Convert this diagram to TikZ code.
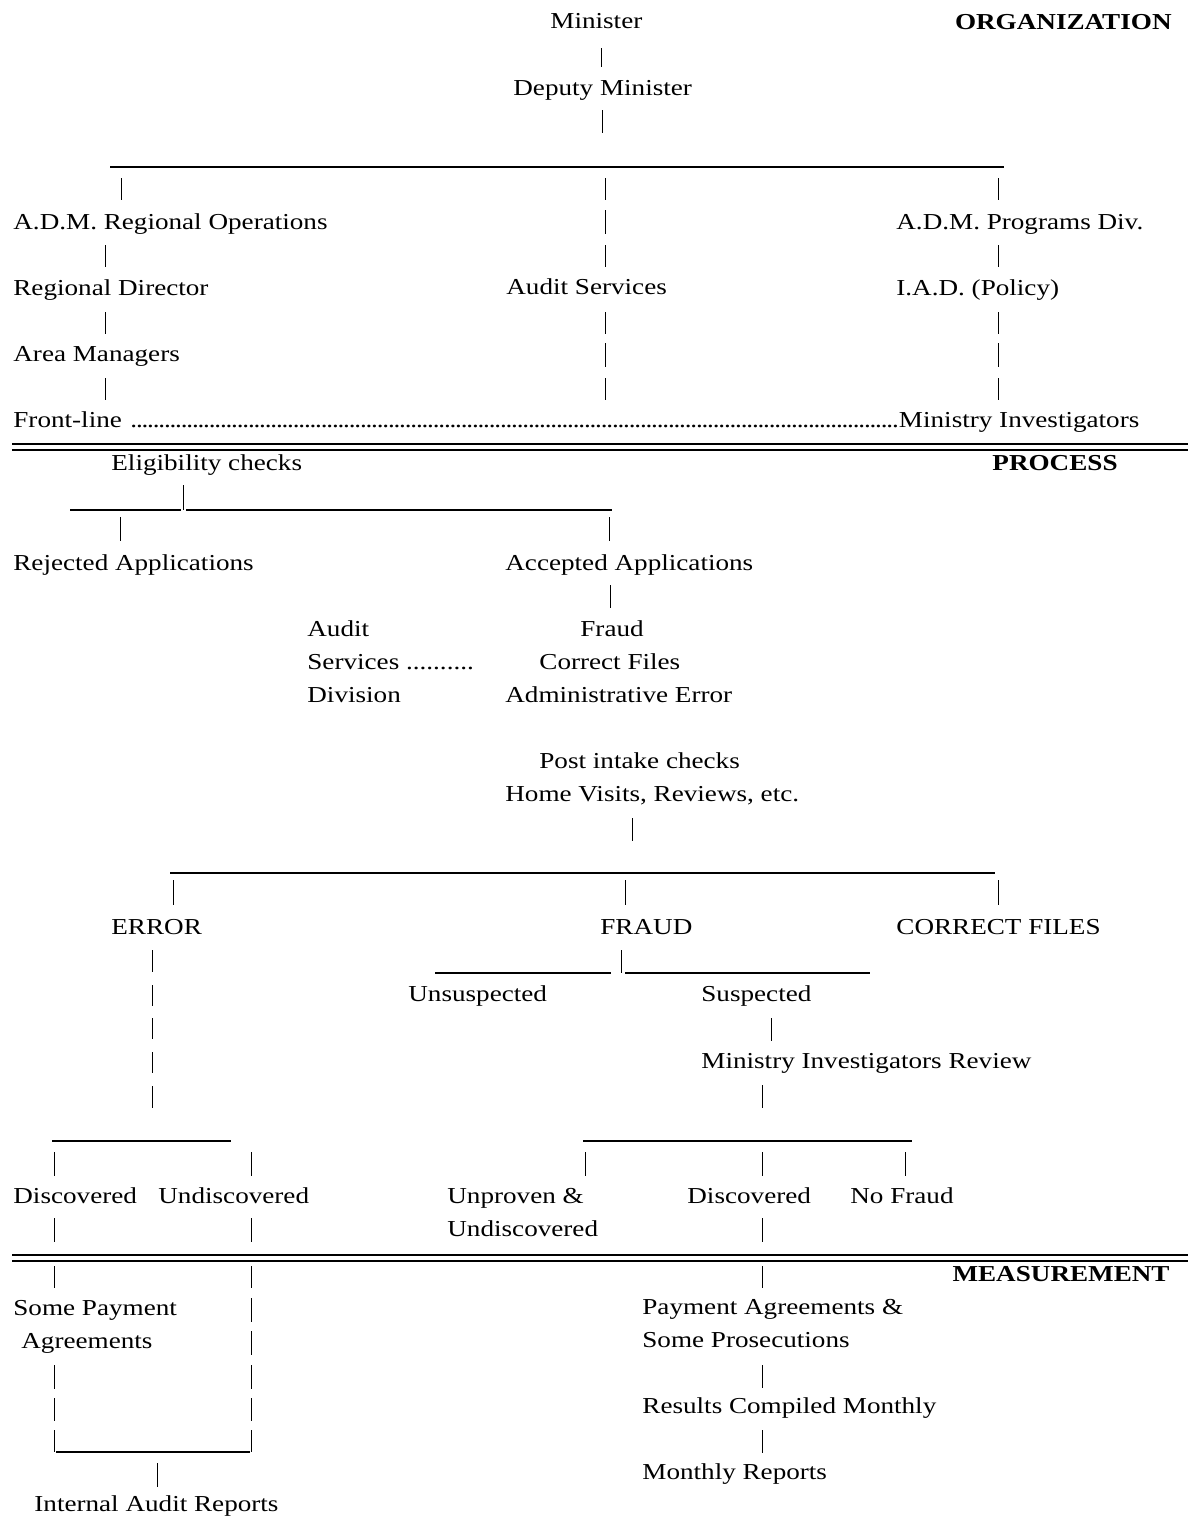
\documentclass[tikz,border=0pt]{standalone}
\usepackage{fontspec}
\setmainfont{Liberation Serif}[FakeStretch=1.19]
\begin{document}
\begin{tikzpicture}[x=0.5pt,y=-0.5pt,
  txt/.style={inner sep=0pt,anchor=base west,font=\fontsize{11.4}{16.5}\selectfont},
  hdr/.style={inner sep=0pt,anchor=base east,font=\fontsize{11.4}{16.5}\selectfont\bfseries},
  tick/.style={line width=0.5pt},
  hrule/.style={line width=0.7pt},
  sect/.style={line width=1.2pt}]
\useasboundingbox (0,0) rectangle (1191,1522);
\newcommand{\tk}[3]{\draw[tick] (#1,#2) -- (#1,#3);}
% ORGANIZATION
\node[txt] (min) at (550,28) {Minister};
\node[hdr] (horg) at (1172,29) {ORGANIZATION};
\tk{601}{48}{67}
\node[txt] (dep) at (513,95) {Deputy Minister};
\tk{602}{110}{133}
\draw[hrule] (110,167) -- (1004,167);
\tk{121}{178}{200}\tk{605}{178}{200}\tk{998}{178}{200}
\node[txt] (adm1) at (13,229) {A.D.M. Regional Operations};
\tk{605}{210}{234}
\node[txt] (adm2) at (896,229) {A.D.M. Programs Div.};
\tk{105}{245}{267}\tk{605}{245}{267}\tk{998}{245}{267}
\node[txt] (rd) at (13,295) {Regional Director};
\node[txt] (as) at (506,294) {Audit Services};
\node[txt] (iad) at (896,295) {I.A.D. (Policy)};
\tk{105}{312}{334}\tk{605}{312}{334}\tk{998}{312}{334}
\node[txt] (am) at (13,361) {Area Managers};
\tk{605}{343}{367}\tk{998}{343}{367}
\tk{105}{378}{400}\tk{605}{378}{400}\tk{998}{378}{400}
\node[txt] (front) at (13,427) {\hbox to 563pt{Front-line \leaders\hbox to 2.8pt{\hss.\hss}\hfill Ministry Investigators}};
\draw[sect] (12,444) -- (1188,444);
\draw[sect] (12,450) -- (1188,450);
% PROCESS
\node[txt] (elig) at (111,470) {Eligibility checks};
\node[hdr] (hproc) at (1118,470) {PROCESS};
\tk{183}{485}{510}
\draw[hrule] (70,510) -- (181,510);
\draw[hrule] (186,510) -- (612,510);
\tk{120}{517}{541}\tk{609}{517}{541}
\node[txt] (rej) at (13,570) {Rejected Applications};
\node[txt] (acc) at (505,570) {Accepted Applications};
\tk{610}{585}{608}
\node[txt] (asd1) at (307,636) {Audit};
\node[txt] (asd2) at (307,669) {Services ..........};
\node[txt] (asd3) at (307,702) {Division};
\node[txt] (f1) at (580,636) {Fraud};
\node[txt] (f2) at (539,669) {Correct Files};
\node[txt] (f3) at (505,702) {Administrative Error};
\node[txt] (pic1) at (539,768) {Post intake checks};
\node[txt] (pic2) at (505,801) {Home Visits, Reviews, etc.};
\tk{632}{818}{841}
\draw[hrule] (170,873) -- (995,873);
\tk{173}{880}{905}\tk{625}{880}{905}\tk{998}{880}{905}
\node[txt] (err) at (111,934) {ERROR};
\node[txt] (fraud) at (600,934) {FRAUD};
\node[txt] (cf) at (896,934) {CORRECT FILES};
\tk{152}{950}{972}\tk{152}{985}{1006}\tk{152}{1018}{1039}\tk{152}{1052}{1073}\tk{152}{1086}{1108}
\tk{621}{950}{973}
\draw[hrule] (435,973) -- (611,973);
\draw[hrule] (625,973) -- (870,973);
\node[txt] (uns) at (408,1001) {Unsuspected};
\node[txt] (sus) at (701,1001) {Suspected};
\tk{771}{1018}{1041}
\node[txt] (mir) at (701,1068) {Ministry Investigators Review};
\tk{762}{1085}{1108}
\draw[hrule] (52,1141) -- (231,1141);
\draw[hrule] (583,1141) -- (912,1141);
\tk{54}{1152}{1176}\tk{251}{1152}{1176}\tk{585}{1152}{1176}\tk{762}{1152}{1176}\tk{905}{1152}{1176}
\node[txt] (disc1) at (13,1203) {Discovered};
\node[txt] (und1) at (158,1203) {Undiscovered};
\node[txt] (unp1) at (447,1203) {Unproven \&};
\node[txt] (unp2) at (447,1236) {Undiscovered};
\node[txt] (disc2) at (687,1203) {Discovered};
\node[txt] (nof) at (850,1203) {No Fraud};
\tk{54}{1218}{1242}\tk{251}{1218}{1242}\tk{762}{1218}{1242}
\draw[sect] (12,1255) -- (1188,1255);
\draw[sect] (12,1261) -- (1188,1261);
% MEASUREMENT
\node[hdr] (hmeas) at (1170,1281) {MEASUREMENT};
\tk{54}{1266}{1288}\tk{251}{1266}{1288}\tk{762}{1266}{1288}
\node[txt] (spa1) at (13,1315) {Some Payment};
\node[txt] (spa2) at (21,1348) {Agreements};
\tk{251}{1298}{1322}\tk{251}{1331}{1355}\tk{251}{1365}{1389}\tk{251}{1398}{1421}\tk{251}{1430}{1452}
\tk{54}{1365}{1389}\tk{54}{1398}{1421}\tk{54}{1430}{1452}
\draw[hrule] (56,1452) -- (250,1452);
\tk{157}{1463}{1487}
\node[txt] (iar) at (34,1511) {Internal Audit Reports};
\node[txt] (pa1) at (642,1314) {Payment Agreements \&};
\node[txt] (pa2) at (642,1347) {Some Prosecutions};
\tk{762}{1365}{1388}
\node[txt] (rcm) at (642,1413) {Results Compiled Monthly};
\tk{762}{1430}{1453}
\node[txt] (mr) at (642,1479) {Monthly Reports};
\end{tikzpicture}
\end{document}
